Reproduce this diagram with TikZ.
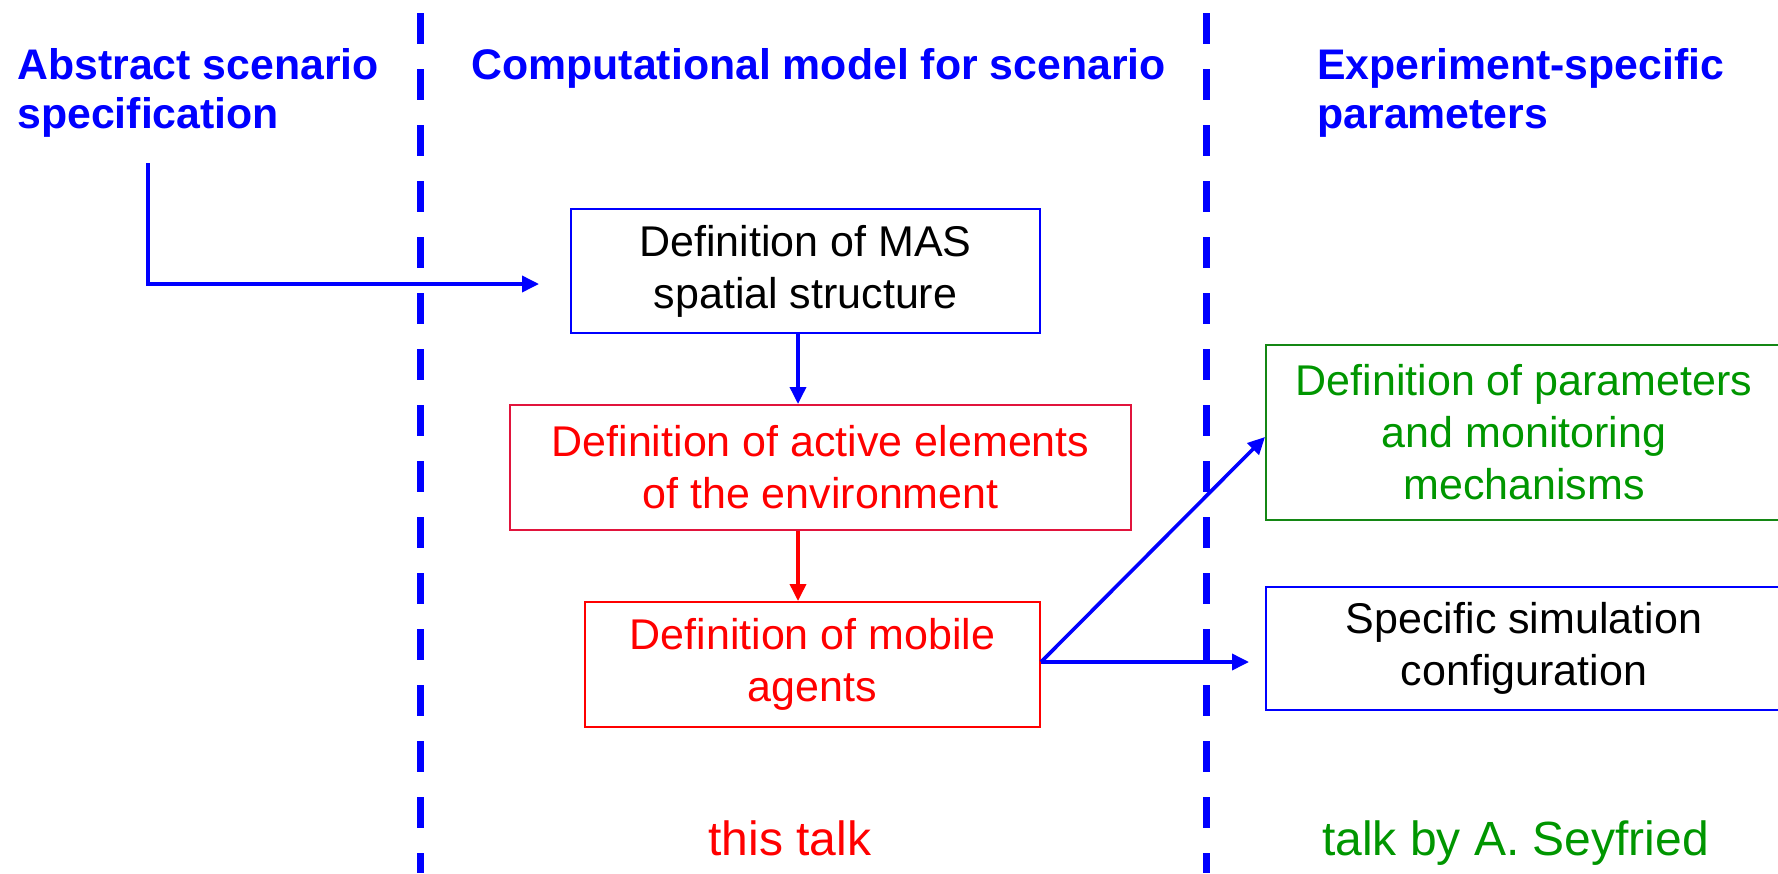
\documentclass[tikz,border=0pt]{standalone}
\usepackage{fontspec}
\setmainfont{Liberation Sans}
\usetikzlibrary{arrows.meta,calc}
\definecolor{myblue}{RGB}{0,0,255}
\definecolor{myred}{RGB}{255,0,0}
\definecolor{myredb}{RGB}{225,20,60}
\definecolor{mygreen}{RGB}{0,150,0}
\definecolor{mygreenb}{RGB}{20,135,20}
\begin{document}
\begin{tikzpicture}[x=0.5pt,y=-0.5pt,
  box/.style={draw, line width=1pt, inner sep=0pt, align=center, font=\fontsize{21.5pt}{26pt}\selectfont},
  head/.style={anchor=base west, inner sep=0pt, align=left, text=myblue, font=\fontsize{21.4pt}{24.5pt}\selectfont\bfseries},
  conn/.style={myblue, line width=1.8pt, -{Triangle[length=8.5pt,width=8pt]}},
  divider/.style={myblue, line width=3.5pt, dash pattern=on 15.5pt off 12.5pt},
  foot/.style={anchor=base, inner sep=0pt, font=\fontsize{24pt}{28pt}\selectfont}]
\useasboundingbox (0,0) rectangle (1778,873);
\clip (0,0) rectangle (1778,873);

% column dividers
\draw[divider] (420,13) -- (420,873);
\draw[divider] (1206,13) -- (1206,873);

% headings (multi-line nodes: base = baseline of last line)
\node[head] (abs) at (17,128) {Abstract scenario\\specification};
\node[head] (comp) at (471,79) {Computational model for scenario};
\node[head] (exp) at (1317,128) {Experiment-specific\\parameters};

% boxes
\node[box, draw=myblue, minimum width=234.5pt, minimum height=62pt] (mas) at (805.5,271) {Definition of MAS\\spatial structure};
\node[box, draw=myredb, text=myred, minimum width=310.5pt, minimum height=62.5pt] (act) at (820.5,467.5) {Definition of active elements\\of the environment};
\node[box, draw=myred, text=myred, minimum width=227.5pt, minimum height=62.5pt] (mob) at (812.5,664.5) {Definition of mobile\\agents};
\node[box, draw=mygreenb, text=mygreen, minimum width=258pt, minimum height=87.5pt] (par) at (1524,432.5) {Definition of parameters\\and monitoring\\mechanisms};
\node[box, draw=myblue, minimum width=258pt, minimum height=61.5pt] (sim) at (1524,648.5) {Specific simulation\\configuration};

% connectors
\coordinate (absStart) at (148,163);
\draw[conn] (absStart) |- ($(mas.west)+(-31,13)$);
\draw[conn] ($(mas.south)+(-7.5,0)$) -- ($(mas.south |- act.north)+(-7.5,0)$);
\draw[conn, myred] ($(mas.south |- act.south)+(-7.5,0)$) -- ($(mas.south |- mob.north)+(-7.5,0)$);
\draw[conn] ($(mob.east)+(0,-2.5)$) -- ($(par.west)+(0,4.5)$);
\draw[conn] ($(mob.east)+(0,-2.5)$) -- ($(sim.west |- mob.east)+(-16,-2.5)$);

% footer labels
\node[foot, text=myred] (this) at (790,855) {this talk};
\node[foot, text=mygreen] (seyf) at (1515.5,855) {talk by A. Seyfried};
\end{tikzpicture}
\end{document}
